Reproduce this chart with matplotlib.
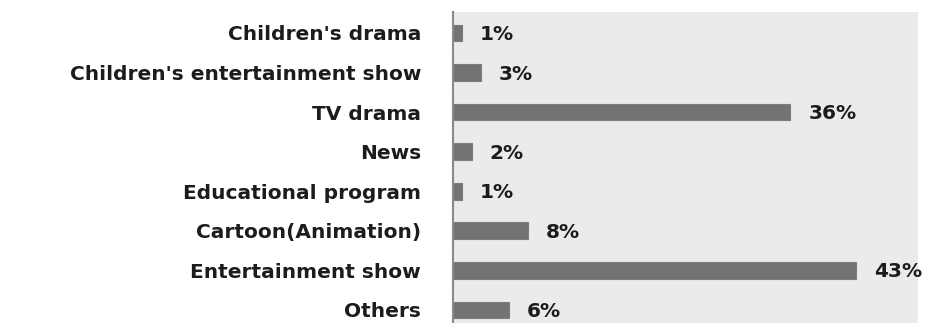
import matplotlib.pyplot as plt

# share of favourite TV genres (%)
genres = ["Children's drama", "Children's entertainment show", "TV drama", "News",
          "Educational program", "Cartoon(Animation)", "Entertainment show", "Others"]
shares = [1, 3, 36, 2, 1, 8, 43, 6]
labels = ["1%", "3%", "36%", "2%", "1%", "8%", "43%", "6%"]

plt.rcParams['font.family'] = ['DejaVu Sans']

fig = plt.figure(figsize=(9.29, 3.23), dpi=100)
ax = fig.add_axes([0.4876, 0.0, 0.5004, 0.963])
ax.set_facecolor('#ebebeb')

ypos = list(range(len(genres)))
ax.barh(ypos, shares, height=0.42, color='#737373', edgecolor='#7d7d7d', linewidth=0.8)

for y, v, lab in zip(ypos, shares, labels):
    ax.text(v + 1.9, y + 0.04, lab, va='center', ha='left', fontsize=14.5,
            fontweight='bold', color='#1c1c1c')

ax.set_yticks(ypos)
ax.set_yticklabels(genres, fontsize=14.5, fontweight='bold', color='#1c1c1c')
ax.set_xlim(0, 49.6)
ax.set_ylim(7.33, -0.53)
ax.set_xticks([])
ax.tick_params(axis='y', length=0, pad=23)

for side in ['top', 'right', 'bottom']:
    ax.spines[side].set_visible(False)
ax.spines['left'].set_color('#8a8a8a')
ax.spines['left'].set_linewidth(1.5)

fig.savefig('out.png', dpi=100, facecolor='white')
